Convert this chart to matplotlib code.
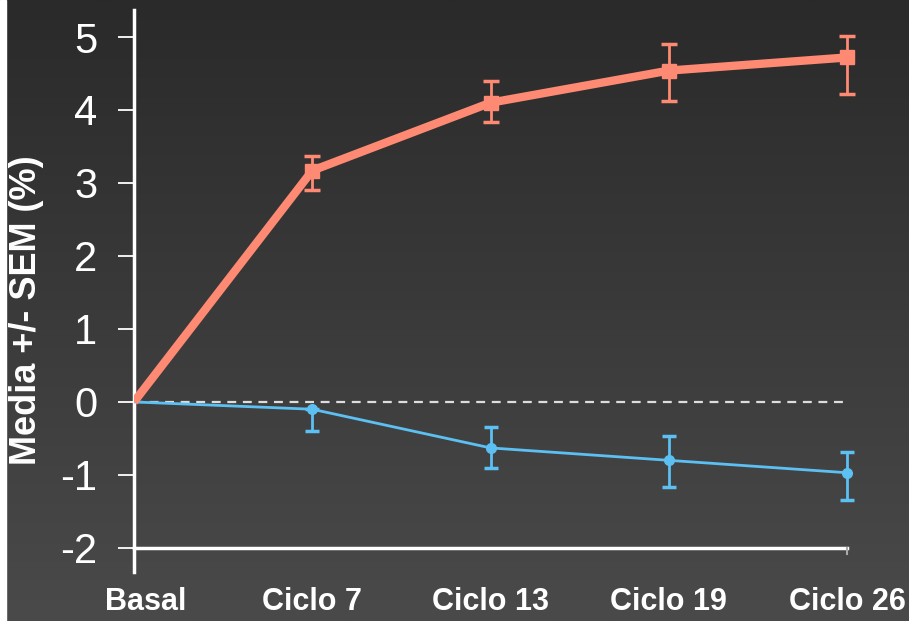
import numpy as np
import matplotlib
matplotlib.use('Agg')
import matplotlib.pyplot as plt
from matplotlib.transforms import ScaledTranslation

plt.rcParams['font.family'] = ['Liberation Sans', 'DejaVu Sans']
plt.rcParams['axes.unicode_minus'] = False

etapas = ['Basal', 'Ciclo 7', 'Ciclo 13', 'Ciclo 19', 'Ciclo 26']

# serie roja (superior)
rojo = [0, 3.17, 4.1, 4.54, 4.72]
rojo_sup = [0, 0.2, 0.3, 0.36, 0.3]
rojo_inf = [0, 0.27, 0.27, 0.41, 0.5]

# serie azul (inferior)
azul = [0, -0.1, -0.63, -0.8, -0.97]
azul_sup = [0, 0, 0.28, 0.33, 0.29]
azul_inf = [0, 0.3, 0.28, 0.36, 0.37]

c_rojo = '#ff8a73'
c_azul = '#5cc0f2'

fig = plt.figure(figsize=(9.09, 6.21), dpi=100)

# fondo degradado
bg = fig.add_axes([0, 0, 1, 1], zorder=-10)
grad = np.linspace(0, 1, 256).reshape(-1, 1)
bg.imshow(grad, aspect='auto', cmap=matplotlib.colors.LinearSegmentedColormap.from_list(
    'bg', ['#2a2a2a', '#4a4a4a']), extent=[0, 1, 0, 1], origin='upper')
bg.add_patch(plt.Rectangle((0, 0), 6 / 909, 1, color='white', transform=bg.transAxes))
bg.set_xlim(0, 1)
bg.set_ylim(0, 1)
bg.axis('off')

ax = fig.add_axes([134 / 909, 49 / 621, 731 / 909, 562 / 621])
ax.patch.set_alpha(0)
x = np.arange(len(etapas))

ax.plot([0, 4], [0, 0], ls=(0, (4, 3)), color='#dddddd', lw=1.6, zorder=1)
ax.plot([0, 4], [-2, -2], color='white', lw=2.5, clip_on=False, zorder=1)
ax.plot([4, 4], [-2, -2.08], color='#aaaaaa', lw=1.5, clip_on=False)

ax.errorbar(x[1:], azul[1:], yerr=[azul_inf[1:], azul_sup[1:]], fmt='none',
            ecolor=c_azul, elinewidth=2, capsize=5, capthick=2.5, clip_on=False)
ax.plot(x, azul, color=c_azul, lw=2, zorder=3)
ax.plot(x[1:], azul[1:], 'o', color=c_azul, ms=7, zorder=4)

ax.errorbar(x[1:], rojo[1:], yerr=[rojo_inf[1:], rojo_sup[1:]], fmt='none',
            ecolor=c_rojo, elinewidth=2, capsize=6, capthick=2.5, clip_on=False)
ax.plot(x, rojo, color=c_rojo, lw=6, zorder=3, solid_capstyle='butt')
ax.plot(x[1:], rojo[1:], 's', color=c_rojo, ms=10, zorder=4, clip_on=False)

ax.set_xlim(0, 4.1)
ax.set_ylim(-2.33, 5.37)
ax.set_yticks(range(-2, 6))
ax.set_xticks(x)
ax.set_xticklabels(etapas, fontsize=22, fontweight='bold', color='white')
ax.tick_params(axis='x', length=0, pad=11)
ax.tick_params(axis='y', length=11.5, width=1.3, color='white', pad=15,
               labelsize=30, labelcolor='white')
basal = ax.xaxis.get_major_ticks()[0].label1
basal.set_transform(basal.get_transform() + ScaledTranslation(0.12, 0, fig.dpi_scale_trans))

for s in ['top', 'right', 'bottom']:
    ax.spines[s].set_visible(False)
ax.spines['left'].set_color('white')
ax.spines['left'].set_linewidth(2.5)

ax.set_ylabel('Media +/- SEM (%)', fontsize=26, fontweight='bold', color='white')
ax.yaxis.set_label_coords(-0.123, 0.466)

fig.savefig('out.png', dpi=100)
